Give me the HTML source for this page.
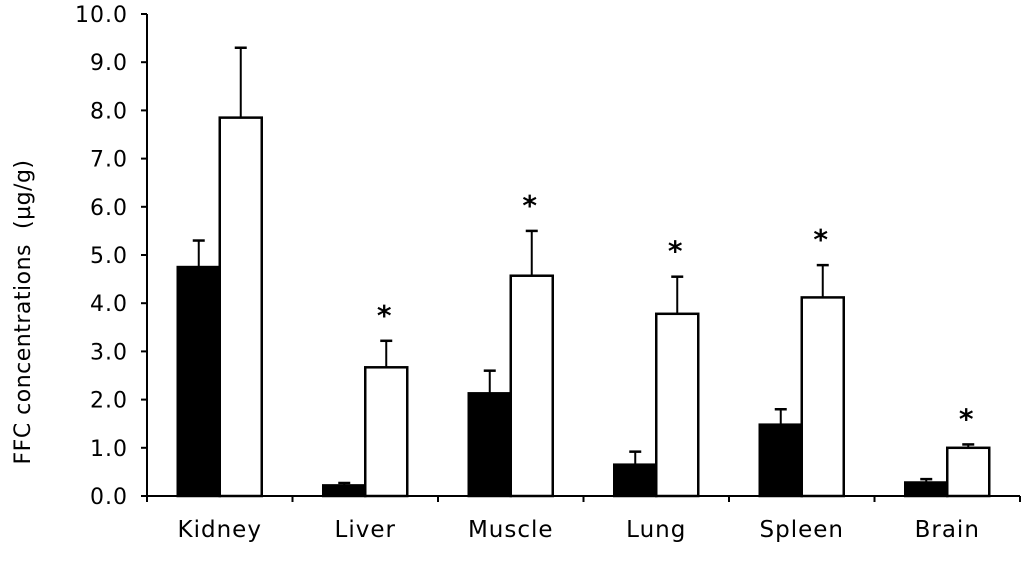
<!DOCTYPE html>
<html><head><meta charset="utf-8"><style>
html,body{margin:0;padding:0;background:#fff;}
svg text{font-family:"DejaVu Sans","Liberation Sans",sans-serif;fill:#000;}
</style></head><body>
<svg id="chart" width="1035" height="558" xmlns="http://www.w3.org/2000/svg"></svg>
<script>
const categories=["Kidney","Liver","Muscle","Lung","Spleen","Brain"];
const controlValues=[4.75,0.22,2.13,0.65,1.48,0.28];
const controlErrors=[0.55,0.05,0.47,0.27,0.32,0.07];
const treatedValues=[7.85,2.67,4.57,3.78,4.12,1.0];
const treatedErrors=[1.45,0.55,0.93,0.77,0.67,0.07];
const significant=[false,true,true,true,true,true];
const yTicks=[0,1,2,3,4,5,6,7,8,9,10];
const yTickLabels=["0.0","1.0","2.0","3.0","4.0","5.0","6.0","7.0","8.0","9.0","10.0"];

const svg=document.getElementById('chart');
const NS="http://www.w3.org/2000/svg";
const x0=147,x1=1020,y0=496,yTop=14;
const bandW=(x1-x0)/categories.length;
function yScale(v){return y0-(v/10)*(y0-yTop);}
function xCenter(i){return x0+bandW*(i+0.5);}
function mk(tag,attrs,parent){const e=document.createElementNS(NS,tag);for(const k in attrs)e.setAttribute(k,attrs[k]);(parent||svg).appendChild(e);return e;}

const yAxis=mk('g',{});


mk('line',{x1:x0,y1:yTop,x2:x0,y2:y0,stroke:'#000','stroke-width':2},yAxis);
yTicks.forEach((t,i)=>{
  const y=yScale(t);
  mk('line',{x1:x0-6,y1:y,x2:x0,y2:y,stroke:'#000','stroke-width':2},yAxis);
  const tx=mk('text',{x:x0-19,y:y+8,'text-anchor':'end','font-size':22,'letter-spacing':'1'},yAxis);
  tx.textContent=yTickLabels[i];
  
  
});
const yt=mk('text',{x:0,y:0,'text-anchor':'middle','font-size':22,'letter-spacing':'0.5','xml:space':'preserve',style:'white-space:pre',transform:`translate(30,312) rotate(-90)`});
yt.textContent="FFC concentrations  (µg/g)";



const xAxis=mk('g',{});


mk('line',{x1:x0,y1:y0,x2:x1,y2:y0,stroke:'#000','stroke-width':2},xAxis);
for(let i=0;i<=categories.length;i++){
  const x=x0+bandW*i;
  mk('line',{x1:x,y1:y0,x2:x,y2:y0+6,stroke:'#000','stroke-width':2},xAxis);
}
categories.forEach((c,i)=>{
  const t=mk('text',{x:xCenter(i),y:537,'text-anchor':'middle','font-size':23,'letter-spacing':'1'},xAxis);
  t.textContent=c;
  
  
});

const bw=42;
function drawBar(i,v,err,xl,fill,name){
  const g=mk('g',{});
  
  
  const yv=yScale(v),ye=yScale(v+err),xc=xl+bw/2;
  mk('line',{x1:xc,y1:yv,x2:xc,y2:ye,stroke:'#000','stroke-width':2},g);
  mk('line',{x1:xc-6,y1:ye,x2:xc+6,y2:ye,stroke:'#000','stroke-width':2.5},g);
  mk('rect',{x:xl,y:yv,width:bw,height:y0-yv,fill:fill,stroke:'#000','stroke-width':2.5},g);
}
categories.forEach((c,i)=>{
  const xc=xCenter(i);
  drawBar(i,controlValues[i],controlErrors[i],xc-bw,'#000','bar-control-'+c.toLowerCase());
  drawBar(i,treatedValues[i],treatedErrors[i],xc,'#fff','bar-treated-'+c.toLowerCase());
  if(significant[i]){
    const s=mk('text',{x:xc+bw/2-2,y:yScale(treatedValues[i]+treatedErrors[i])-16,'text-anchor':'middle','font-size':28,'font-weight':'bold'});
    s.textContent='*';
    
    
  }
});
</script>
</body></html>
